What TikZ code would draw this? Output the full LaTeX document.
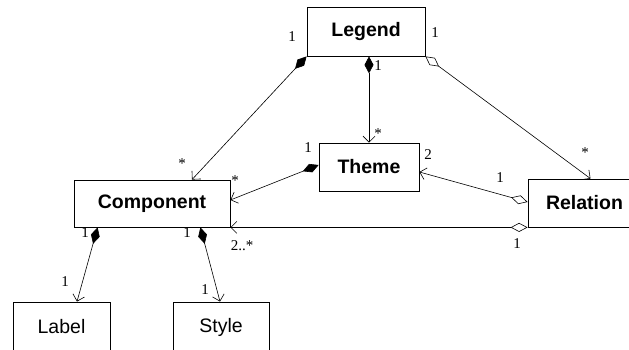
\documentclass[tikz,border=0pt]{standalone}
\usepackage{fontspec}
\setmainfont{Liberation Serif}
\newfontfamily\boxfont{Liberation Sans}
\usetikzlibrary{arrows.meta}
\tikzset{
  cls/.style={draw, line width=0.8pt, inner sep=0pt, font=\boxfont\fontsize{19.5}{22}\selectfont},
  clsb/.style={cls, font=\boxfont\bfseries\fontsize{19.5}{22}\selectfont},
  link/.style={draw, line width=0.6pt},
  compos/.style={link, {Diamond[length=17pt,width=9pt]}-{Straight Barb[length=6pt,width=12pt,line width=0.6pt]}},
  aggr/.style={link, {Diamond[open,length=17pt,width=9pt,line width=0.6pt]}-{Straight Barb[length=6pt,width=12pt,line width=0.6pt]}},
  mult/.style={inner sep=0pt, font=\fontsize{15}{17}\selectfont}
}
\begin{document}
\begin{tikzpicture}[x=1pt,y=-1pt]
  \useasboundingbox (0,0) rectangle (629,350);
  \clip (0,0) rectangle (629,350);
  \fill[white] (0,0) rectangle (629,350);

  % classes
  \node[clsb, minimum width=118pt, minimum height=49pt] (leg) at (366,31.5) {Legend};
  \node[clsb, minimum width=156pt, minimum height=47pt] (com) at (152,203.5) {Component};
  \node[clsb, minimum width=100pt, minimum height=48pt] (thm) at (369,167) {Theme};
  \node[clsb, minimum width=113pt, minimum height=48pt] (rel) at (584.5,203) {Relation};
  \node[cls, minimum width=97pt, minimum height=50pt] (lab) at (61.5,327) {Label};
  \node[cls, minimum width=96pt, minimum height=50pt] (sty) at (221,327) {Style};

  % associations
  \draw[compos] (leg.south west) -- ([xshift=40pt]com.north);
  \draw[compos] (thm.north |- leg.south) -- (thm.north);
  \draw[aggr] (leg.south east) -- ([xshift=6pt]rel.north);
  \draw[compos] ([yshift=2pt]thm.west) -- ([yshift=3.5pt]com.east);
  \draw[aggr] ([yshift=1pt]rel.west) -- ([yshift=-5pt]thm.east);
  \draw[aggr] (rel.south west) -- (com.south east);
  \draw[compos] ([xshift=24pt]com.south west) -- ([xshift=15.5pt]lab.north);
  \draw[compos] ([xshift=-30pt]com.south east) -- ([xshift=-1pt]sty.north);

  % multiplicities
  \node[mult] (m1) at (292,37) {1};
  \node[mult] (m2) at (182,164) {*};
  \node[mult] (m3) at (378,66) {1};
  \node[mult] (m4) at (378,134) {*};
  \node[mult] (m5) at (435,33) {1};
  \node[mult] (m6) at (585,153) {*};
  \node[mult] (m7) at (308,148) {1};
  \node[mult] (m8) at (235,181) {*};
  \node[mult] (m9) at (428,155) {2};
  \node[mult] (m10) at (500,178) {1};
  \node[mult] (m11) at (517,244) {1};
  \node[mult] (m12) at (242,246) {2..*};
  \node[mult] (m13) at (85,233) {1};
  \node[mult] (m14) at (65,282) {1};
  \node[mult] (m15) at (187,233) {1};
  \node[mult] (m16) at (205,290) {1};
\end{tikzpicture}
\end{document}
